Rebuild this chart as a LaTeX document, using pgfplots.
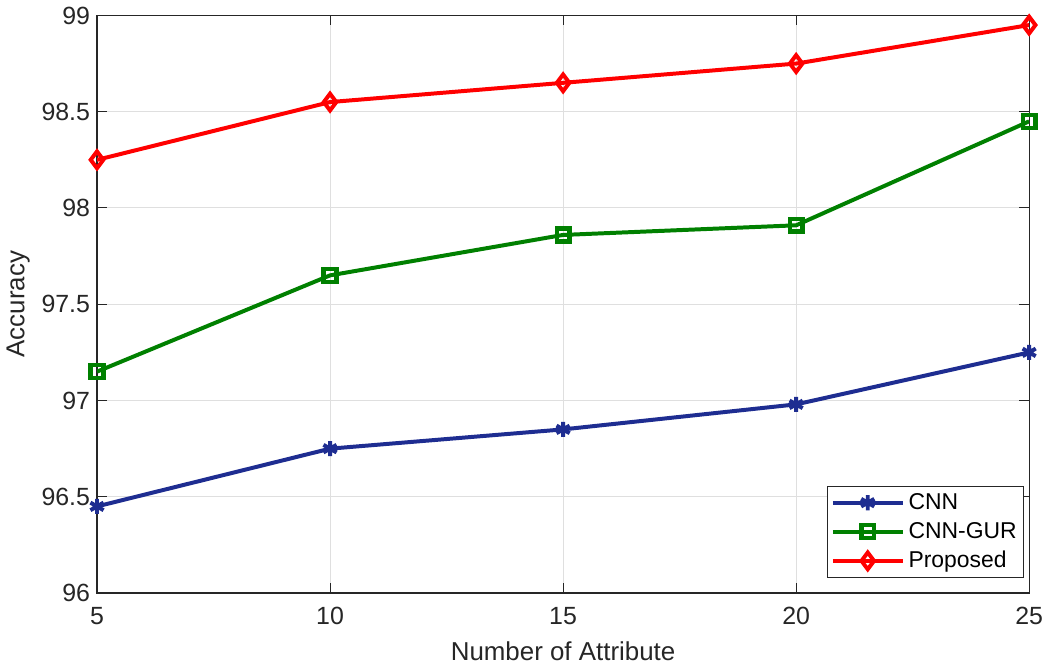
\documentclass[border=0pt]{standalone}
\usepackage{pgfplots}
\pgfplotsset{compat=1.18}
\usepackage{fontspec}
\setmainfont{Liberation Sans}
\definecolor{axc}{RGB}{38,38,38}
\definecolor{cnnblue}{RGB}{30,45,145}
\definecolor{gurgreen}{RGB}{0,128,0}
\definecolor{propred}{RGB}{255,0,0}
\begin{document}
\begin{tikzpicture}
\begin{axis}[
  scale only axis,
  width=468pt, height=290pt,
  xmin=5, xmax=25, ymin=96, ymax=99,
  xtick={5,10,15,20,25},
  ytick={96,96.5,97,97.5,98,98.5,99},
  yticklabels={96,96.5,97,97.5,98,98.5,99},
  tick align=inside,
  tick style={axc, line width=0.5pt},
  major tick length=5pt,
  axis line style={axc, line width=0.6pt},
  grid=major,
  grid style={gray!25, line width=0.5pt},
  /pgf/number format/assume math mode=true,
  tick label style={font=\fontsize{12.5}{13}\selectfont, text=axc},
  xticklabel style={yshift=-3.5pt, inner xsep=1.5pt},
  xlabel={Number of Attribute},
  ylabel={Accuracy},
  label style={font=\fontsize{13}{14}\selectfont, text=axc},
  xlabel style={at={(axis description cs:0.5,0)}, anchor=base, yshift=-34pt, inner ysep=2.5pt},
  ylabel style={yshift=-1pt},
  legend style={at={(1,0)}, anchor=south east, xshift=-2.5pt, yshift=7.5pt,
    font=\fontsize{11.5}{13}\selectfont, draw=axc, line width=0.5pt,
    inner sep=1.5pt, row sep=1pt,
    legend image code/.code={\draw[mark repeat=2,mark phase=2] plot coordinates {(0pt,0pt) (17.5pt,0pt) (35pt,0pt)};}},
  legend cell align=left,
  legend image post style={line width=2pt},
]
\addplot[cnnblue, line width=2pt, mark=asterisk, mark size=3.8pt, mark options={line width=2pt}]
  coordinates {(5,96.45) (10,96.75) (15,96.85) (20,96.98) (25,97.25)};
\addlegendentry{CNN}
\addplot[gurgreen, line width=2pt, mark=square, mark size=3.2pt, mark options={line width=2.2pt}]
  coordinates {(5,97.15) (10,97.65) (15,97.86) (20,97.91) (25,98.45)};
\addlegendentry{CNN-GUR}
\addplot[propred, line width=2pt, mark=diamond, mark size=4.2pt, mark options={line width=2pt}]
  coordinates {(5,98.25) (10,98.55) (15,98.65) (20,98.75) (25,98.95)};
\addlegendentry{Proposed}
\end{axis}
\end{tikzpicture}
\end{document}
